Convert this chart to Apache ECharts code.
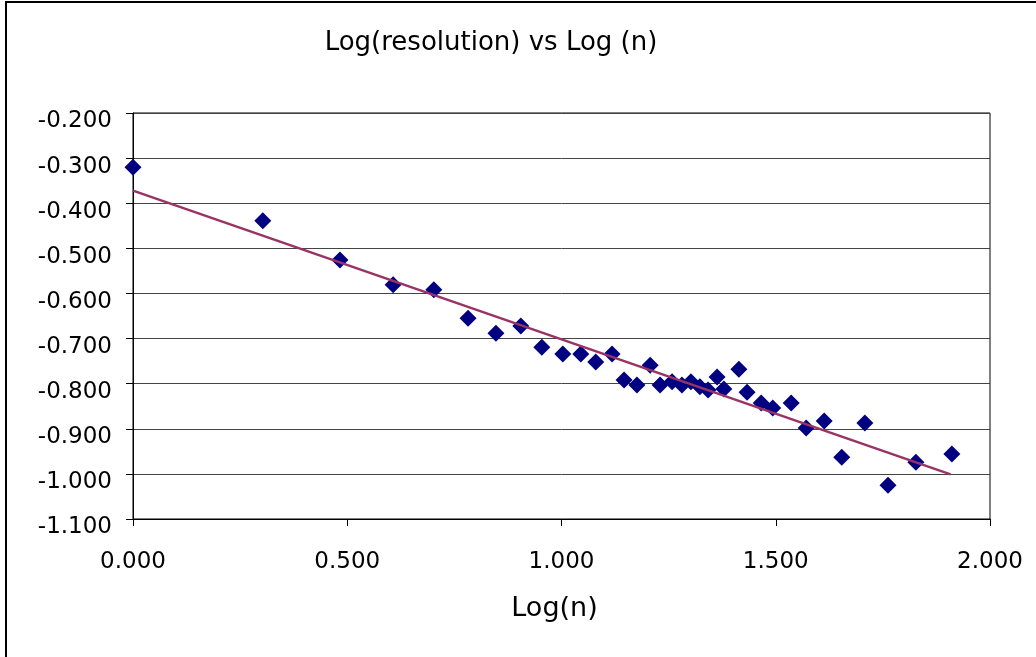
<!DOCTYPE html>
<html lang="en">
<head>
    <meta charset="UTF-8">
    <title>Log(resolution) vs Log (n)</title>
    <script src="https://cdn.jsdelivr.net/npm/echarts@6/dist/echarts.min.js"></script>
    <style>
        html, body { margin: 0; padding: 0; background: #fff; }
        #box { width: 1036px; height: 657px; }
    </style>
</head>
<body>
<div id="box"></div>
<script>
    // values
    var logN = [0, 0.303, 0.483, 0.607, 0.702, 0.782, 0.847, 0.905, 0.954, 1.003, 1.045, 1.080,
        1.118, 1.146, 1.176, 1.207, 1.230, 1.258, 1.281, 1.302, 1.323, 1.342, 1.363, 1.379,
        1.414, 1.433, 1.466, 1.493, 1.536, 1.571, 1.613, 1.654, 1.708, 1.762, 1.827, 1.911];
    var logRes = [-0.320, -0.439, -0.526, -0.581, -0.592, -0.655, -0.688, -0.672, -0.719, -0.734,
        -0.734, -0.752, -0.734, -0.792, -0.803, -0.759, -0.803, -0.796, -0.803, -0.796, -0.807,
        -0.814, -0.785, -0.812, -0.768, -0.819, -0.843, -0.854, -0.843, -0.898, -0.883, -0.963,
        -0.887, -1.025, -0.974, -0.956];
    // trendline end points
    var trendX = [0, 1.908];
    var trendY = [-0.372, -1.001];

    var points = logN.map(function (x, i) { return [x, logRes[i]]; });
    var trend = trendX.map(function (x, i) { return [x, trendY[i]]; });

    var font = 'DejaVu Sans, Verdana, sans-serif';
    var mychart = echarts.init(document.getElementById('box'));
    var option = {
        backgroundColor: '#fff',
        animation: false,
        title: {
            text: 'Log(resolution) vs Log (n)',
            left: 486,
            top: 25,
            textAlign: 'center',
            textStyle: { fontFamily: font, fontSize: 26, fontWeight: 'normal', color: '#000' }
        },
        graphic: [{
            type: 'rect',
            shape: { x: 6, y: 2, width: 1100, height: 800 },
            style: { fill: 'none', stroke: '#000', lineWidth: 2 },
            silent: true
        }],
        grid: {
            left: 133, right: 46, top: 113, bottom: 138,
            show: true, borderColor: '#000', borderWidth: 1
        },
        xAxis: {
            type: 'value',
            min: 0, max: 2, interval: 0.5,
            name: 'Log(n)',
            nameLocation: 'middle',
            nameGap: 76,
            nameTextStyle: { fontFamily: font, fontSize: 27, color: '#000', padding: [0, 14, 0, 0] },
            axisLine: { onZero: false, lineStyle: { color: '#000' } },
            axisTick: { show: true, length: 7, lineStyle: { color: '#000' } },
            axisLabel: {
                margin: 32, fontFamily: font, fontSize: 23, color: '#000',
                formatter: function (v) { return v.toFixed(3); }
            },
            splitLine: { show: false }
        },
        yAxis: {
            type: 'value',
            min: -1.1, max: -0.2, interval: 0.1,
            axisLine: { show: true, onZero: false, lineStyle: { color: '#000' } },
            axisTick: { show: true, length: 7, lineStyle: { color: '#000' } },
            axisLabel: {
                margin: 21, fontFamily: font, fontSize: 23, color: '#000',
                verticalAlign: 'top', lineHeight: 17,
                formatter: function (v) { return v.toFixed(3); }
            },
            splitLine: { show: true, lineStyle: { color: '#444', width: 1 } }
        },
        series: [{
            type: 'scatter',
            data: points,
            symbol: 'diamond',
            symbolSize: 17,
            itemStyle: { color: '#000080', opacity: 1 },
            z: 2
        }, {
            type: 'line',
            data: trend,
            symbol: 'none',
            lineStyle: { color: '#993366', width: 2.5 },
            z: 3
        }]
    };
    mychart.setOption(option);
</script>
</body>
</html>
